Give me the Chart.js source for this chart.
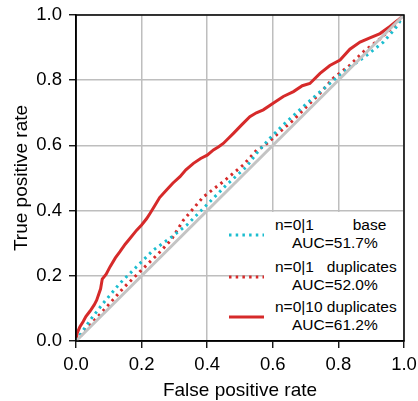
<!doctype html>
<html>
<head>
<meta charset="utf-8">
<title>ROC</title>
<script src="https://cdn.jsdelivr.net/npm/chart.js@4.4.1/dist/chart.umd.min.js"></script>
<style>
  body { margin: 0; background: #fff; }
  #wrap { position: relative; width: 418px; height: 401px; }
  #legendBox { position: absolute; left: 264px; top: 212px; width: 139px; height: 128px; background: #fff; }
  .lg { position: absolute; font: 15.5px "Liberation Sans", Arial, Helvetica, sans-serif; color: #000; line-height: 18px; white-space: pre; }
  .lg span { display: block; }
  .lg span.auc { padding-left: 17px; }
  svg.h { position: absolute; left: 229px; width: 36px; height: 8px; overflow: visible; }
</style>
</head>
<body>
<div id="wrap">
  <canvas id="myChart" width="418" height="401"></canvas>
  <div id="legendBox"></div>
</div>

<script>
  // ROC curves
  var fprBase = [0, 0.02, 0.043, 0.083, 0.134, 0.185, 0.236, 0.29, 0.338, 0.398, 0.459, 0.52, 0.55, 0.591, 0.632, 0.693, 0.739, 0.774, 0.815, 0.886, 0.937, 0.973, 1.0];
  var tprBase = [0, 0.03, 0.064, 0.116, 0.177, 0.228, 0.279, 0.318, 0.356, 0.417, 0.479, 0.535, 0.575, 0.622, 0.663, 0.719, 0.76, 0.79, 0.825, 0.876, 0.917, 0.958, 1.0];

  var fprDup = [0, 0.02, 0.043, 0.094, 0.144, 0.195, 0.251, 0.29, 0.327, 0.388, 0.449, 0.51, 0.551, 0.571, 0.622, 0.663, 0.703, 0.744, 0.784, 0.835, 0.876, 0.927, 0.967, 1.0];
  var tprDup = [0, 0.022, 0.049, 0.105, 0.162, 0.213, 0.268, 0.31, 0.37, 0.442, 0.489, 0.54, 0.586, 0.596, 0.642, 0.678, 0.719, 0.76, 0.806, 0.846, 0.887, 0.927, 0.963, 1.0];

  var fprDup10 = [0, 0.004, 0.012, 0.022, 0.03, 0.043, 0.055, 0.063, 0.075, 0.08, 0.092, 0.104, 0.12, 0.134, 0.15, 0.165, 0.185, 0.2, 0.215, 0.226, 0.24, 0.255, 0.276, 0.295, 0.317, 0.335, 0.358, 0.38, 0.4, 0.419, 0.435, 0.449, 0.465, 0.48, 0.505, 0.53, 0.55, 0.571, 0.601, 0.632, 0.663, 0.69, 0.713, 0.744, 0.774, 0.805, 0.835, 0.866, 0.896, 0.927, 0.957, 0.98, 1.0];
  var tprDup10 = [0, 0.025, 0.044, 0.06, 0.075, 0.092, 0.11, 0.125, 0.16, 0.19, 0.205, 0.228, 0.255, 0.274, 0.297, 0.315, 0.34, 0.356, 0.375, 0.392, 0.415, 0.44, 0.463, 0.484, 0.504, 0.525, 0.545, 0.56, 0.57, 0.586, 0.596, 0.606, 0.622, 0.637, 0.663, 0.688, 0.7, 0.709, 0.729, 0.75, 0.765, 0.783, 0.79, 0.821, 0.845, 0.862, 0.895, 0.917, 0.93, 0.943, 0.965, 0.983, 1.0];

  var chance = [0, 1];

  var labels = ['n=0|1         base', 'n=0|1   duplicates', 'n=0|10 duplicates'];
  var aucs = ['AUC=51.7%', 'AUC=52.0%', 'AUC=61.2%'];
  var colors = ['#1bbdcf', '#d62a2a', '#d62a2a'];
  var dashes = [[2.5, 4.2], [2.5, 4.2], []];

  function pts(xs, ys) {
    return xs.map(function (x, i) { return { x: x, y: ys[i] }; });
  }

  var fam = '"Liberation Sans", Arial, Helvetica, sans-serif';
  Chart.defaults.font.family = fam;
  Chart.defaults.color = '#000';

  // black box round the plot area
  var frame = {
    id: 'frame',
    afterDatasetsDraw: function (chart) {
      var a = chart.chartArea, c = chart.ctx;
      c.save();
      c.strokeStyle = '#000';
      c.lineWidth = 1.5;
      c.strokeRect(a.left, a.top, a.right - a.left, a.bottom - a.top);
      c.restore();
    }
  };

  var curves = [pts(fprBase, tprBase), pts(fprDup, tprDup), pts(fprDup10, tprDup10)];
  var sets = [{
    data: pts(chance, chance),
    borderColor: '#c4c4c4',
    borderWidth: 3,
    pointRadius: 0
  }];
  curves.forEach(function (d, i) {
    sets.push({
      data: d,
      borderColor: colors[i],
      borderWidth: 3,
      borderDash: dashes[i],
      borderCapStyle: 'butt',
      pointRadius: 0
    });
  });

  function axis(title, fit) {
    return {
      type: 'linear',
      min: 0,
      max: 1,
      afterFit: fit,
      ticks: { stepSize: 0.2, font: { size: 18.5 }, color: '#000', padding: 6,
        callback: function (v) { return v.toFixed(1); } },
      grid: { color: '#bebebe', lineWidth: 1.5, tickColor: '#000', tickLength: 7, tickWidth: 1.3 },
      border: { color: '#000', width: 1.5 },
      title: { display: true, text: title, font: { size: 19 }, color: '#000' }
    };
  }

  // fixed sizes so the plot area lands where it is in the picture
  var xAxis = axis('False positive rate', function (s) {
    s.height = 60; s.paddingLeft = 0; s.paddingRight = 0;
  });
  xAxis.title.padding = { top: 0, bottom: -1 };
  var yAxis = axis('True positive rate', function (s) {
    s.width = 76; s.paddingTop = 0; s.paddingBottom = 0;
  });
  yAxis.title.padding = { top: 10, bottom: 0 };
  yAxis.ticks.padding = 7;

  var ctx = document.getElementById('myChart').getContext('2d');
  var chart = new Chart(ctx, {
    type: 'line',
    data: { datasets: sets },
    options: {
      responsive: false,
      animation: false,
      layout: { padding: { top: 15, right: 14, left: 0, bottom: 0 } },
      plugins: { legend: { display: false }, tooltip: { enabled: false } },
      elements: { line: { tension: 0 } },
      scales: { x: xAxis, y: yAxis }
    },
    plugins: [frame]
  });

  // legend inside the plot, lower right
  var wrap = document.getElementById('wrap');
  var tops = [216, 257.5, 297.5];
  labels.forEach(function (t, i) {
    var d = document.createElement('div');
    d.className = 'lg';
    d.style.left = '275px';
    d.style.top = tops[i] + 'px';
    d.innerHTML = '<span></span><span class="auc"></span>';
    d.children[0].textContent = t;
    d.children[1].textContent = aucs[i];
    wrap.appendChild(d);

    var s = document.createElementNS('http://www.w3.org/2000/svg', 'svg');
    s.setAttribute('class', 'h');
    s.style.top = (tops[i] + 15) + 'px';
    var l = document.createElementNS('http://www.w3.org/2000/svg', 'line');
    l.setAttribute('x1', 0); l.setAttribute('x2', 35);
    l.setAttribute('y1', 4); l.setAttribute('y2', 4);
    l.setAttribute('stroke', colors[i]);
    l.setAttribute('stroke-width', 3);
    if (dashes[i].length) l.setAttribute('stroke-dasharray', dashes[i].join(' '));
    s.appendChild(l);
    wrap.appendChild(s);
  });
</script>
</body>
</html>
